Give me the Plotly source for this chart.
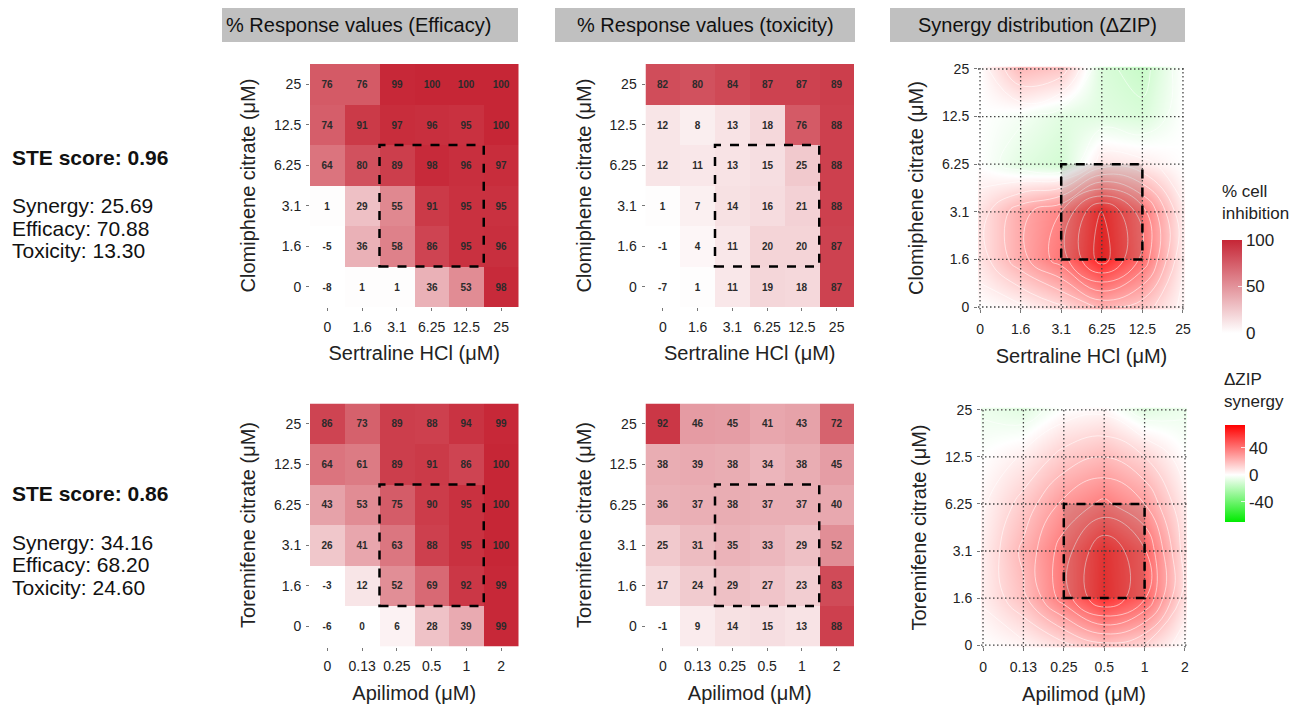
import plotly.graph_objects as go

W, H = 1308, 707
FONT = "Liberation Sans, Arial, sans-serif"

# ---------------- data ----------------
sertraline = ["0", "1.6", "3.1", "6.25", "12.5", "25"]      # x, top row
clomiphene = ["0", "1.6", "3.1", "6.25", "12.5", "25"]      # y, top row
apilimod = ["0", "0.13", "0.25", "0.5", "1", "2"]           # x, bottom row
toremifene = ["0", "1.6", "3.1", "6.25", "12.5", "25"]      # y, bottom row

# matrices: first row = lowest dose on y axis (0), last row = 25
eff_top = [
    [-8, 1, 1, 36, 53, 98],
    [-5, 36, 58, 86, 95, 96],
    [1, 29, 55, 91, 95, 95],
    [64, 80, 89, 98, 96, 97],
    [74, 91, 97, 96, 95, 100],
    [76, 76, 99, 100, 100, 100],
]
tox_top = [
    [-7, 1, 11, 19, 18, 87],
    [-1, 4, 11, 20, 20, 87],
    [1, 7, 14, 16, 21, 88],
    [12, 11, 13, 15, 25, 88],
    [12, 8, 13, 18, 76, 88],
    [82, 80, 84, 87, 87, 89],
]
syn_top = [
    [0, 3, 10, 22, 16, 2],
    [8, 25, 40, 64, 42, 5],
    [8, 25, 36, 62, 40, 5],
    [0, -8, -12, 8, 6, 0],
    [0, -3, -8, -8, -10, 0],
    [0, 20, 16, -10, -15, 0],
]
eff_bot = [
    [-6, 0, 6, 28, 39, 99],
    [-3, 12, 52, 69, 92, 99],
    [26, 41, 63, 88, 95, 100],
    [43, 53, 75, 90, 95, 100],
    [64, 61, 89, 91, 86, 100],
    [86, 73, 89, 88, 94, 99],
]
tox_bot = [
    [-1, 9, 14, 15, 13, 88],
    [17, 24, 29, 27, 23, 83],
    [25, 31, 35, 33, 29, 52],
    [36, 37, 38, 37, 37, 40],
    [38, 39, 38, 34, 38, 45],
    [92, 46, 45, 41, 43, 72],
]
syn_bot = [
    [0, 3, 10, 18, 12, 0],
    [5, 18, 40, 60, 45, 8],
    [5, 22, 40, 59, 45, 8],
    [3, 15, 30, 38, 28, 5],
    [0, 5, 15, 20, 12, 0],
    [-5, -8, 0, 2, -8, -5],
]

scores = [
    ("STE score: 0.96", ["Synergy: 25.69", "Efficacy: 70.88", "Toxicity: 13.30"]),
    ("STE score: 0.86", ["Synergy: 34.16", "Efficacy: 68.20", "Toxicity: 24.60"]),
]
headers = ["% Response values (Efficacy)", "% Response values (toxicity)", "Synergy distribution (ΔZIP)"]
resp_ticks = [0, 50, 100]
syn_ticks = [-40, 0, 40]

SYN_MIN, SYN_MAX = -70, 74
resp_scale = [[0, "rgb(255,255,255)"], [1, "rgb(198,38,54)"]]
z0 = -SYN_MIN / (SYN_MAX - SYN_MIN)
syn_scale = [[0, "rgb(0,235,0)"], [z0, "rgb(255,255,255)"], [1, "rgb(255,0,0)"]]


def fx(px):
    return px / W


def fy(py):
    return 1 - py / H


fig = go.Figure()

# panel pixel boxes: (left, right, top, bottom)
panels = {
    1: (310, 518.5, 64, 307),
    2: (645.5, 854, 64, 307),
    3: (978, 1185, 66.6, 309.4),
    4: (310, 518.5, 403.5, 646.5),
    5: (645.5, 854, 403.5, 646.5),
    6: (981, 1187, 407.6, 647.4),
}

heat_specs = [
    (1, sertraline, clomiphene, eff_top, "Sertraline HCl (μM)", "Clomiphene citrate (μM)", True),
    (2, sertraline, clomiphene, tox_top, "Sertraline HCl (μM)", "Clomiphene citrate (μM)", False),
    (4, apilimod, toremifene, eff_bot, "Apilimod (μM)", "Toremifene citrate (μM)", False),
    (5, apilimod, toremifene, tox_bot, "Apilimod (μM)", "Toremifene citrate (μM)", False),
]
syn_specs = [
    (3, sertraline, clomiphene, syn_top, "Sertraline HCl (μM)", "Clomiphene citrate (μM)", True),
    (6, apilimod, toremifene, syn_bot, "Apilimod (μM)", "Toremifene citrate (μM)", False),
]


def axname(k, a):
    return a if k == 1 else f"{a}{k}"


def axref(k, a):
    return a if k == 1 else f"{a}{k}"


layout_axes = {}


def set_axes(k, xcats, ycats, xtitle, ytitle, rng):
    l, r, t, b = panels[k]
    common = dict(
        type="category", categoryorder="array", showgrid=False, zeroline=False,
        showline=False, ticks="outside", ticklen=3, tickwidth=1, tickcolor="#777",
        tickfont=dict(size=14, color="#222", family=FONT), range=rng, fixedrange=True,
    )
    layout_axes[axname(k, "xaxis")] = dict(
        common, categoryarray=xcats, domain=[fx(l), fx(r)], anchor=axref(k, "y"),
        ticklabelstandoff=4,
        title=dict(text=xtitle, font=dict(size=20, color="#222", family=FONT), standoff=12),
    )
    layout_axes[axname(k, "yaxis")] = dict(
        common, categoryarray=ycats, domain=[fy(b), fy(t)], anchor=axref(k, "x"),
        ticklabelstandoff=2,
        title=dict(text=ytitle, font=dict(size=20, color="#222", family=FONT), standoff=12),
    )


def cbar(xpx, ycen, lpx, ticks):
    return dict(
        x=fx(xpx), xanchor="left", y=fy(ycen), yanchor="middle",
        len=lpx / H, lenmode="fraction", thickness=20, thicknessmode="pixels",
        xpad=0, ypad=0, outlinewidth=0,
        tickmode="array", tickvals=ticks, ticktext=[str(t) for t in ticks],
        ticks="inside", ticklen=4, tickcolor="rgba(255,255,255,0.8)",
        tickfont=dict(size=17, color="#222", family=FONT),
    )


for k, xc, yc, z, xt, yt, show in heat_specs:
    fig.add_trace(go.Heatmap(
        x=xc, y=yc, z=z, text=[[str(v) for v in row] for row in z],
        colorscale=resp_scale, zmin=0, zmax=100,
        texttemplate="%{text}", textfont=dict(size=10, color="#2b2b2b", family=FONT, weight="bold"),
        xaxis=axref(k, "x"), yaxis=axref(k, "y"), hoverinfo="skip",
        showscale=show, colorbar=cbar(1222, 286.5, 93, resp_ticks),
    ))
    set_axes(k, xc, yc, xt, yt, [-0.5, 5.5])
    fig.add_shape(type="rect", xref=axref(k, "x"), yref=axref(k, "y"),
                  x0=1.5, x1=4.5, y0=0.5, y1=3.5,
                  line=dict(color="black", width=2.5, dash="dash"), layer="above")

for k, xc, yc, z, xt, yt, show in syn_specs:
    fig.add_trace(go.Heatmap(
        x=xc, y=yc, z=z, colorscale=syn_scale, zmin=SYN_MIN, zmax=SYN_MAX,
        zsmooth="best", xaxis=axref(k, "x"), yaxis=axref(k, "y"), hoverinfo="skip",
        showscale=show, colorbar=cbar(1225, 473.5, 97, syn_ticks),
    ))
    fig.add_trace(go.Contour(
        x=xc, y=yc, z=z, showscale=False, hoverinfo="skip",
        contours=dict(coloring="none", start=-60, end=70, size=8, showlines=True),
        line=dict(color="rgba(255,255,255,0.55)", width=1, smoothing=1.3),
        xaxis=axref(k, "x"), yaxis=axref(k, "y"),
    ))
    set_axes(k, xc, yc, xt, yt, [-0.05, 5.05])
    for i in range(len(xc)):
        fig.add_shape(type="line", xref=axref(k, "x"), yref=axref(k, "y") + " domain",
                      x0=i, x1=i, y0=0, y1=1,
                      line=dict(color="#444", width=1.3, dash="1.5px,2.5px"), layer="above")
    for j in range(len(yc)):
        fig.add_shape(type="line", xref=axref(k, "x") + " domain", yref=axref(k, "y"),
                      x0=0, x1=1, y0=j, y1=j,
                      line=dict(color="#444", width=1.3, dash="1.5px,2.5px"), layer="above")
    fig.add_shape(type="rect", xref=axref(k, "x"), yref=axref(k, "y"),
                  x0=2, x1=4, y0=1, y1=3, fillcolor="rgba(40,40,40,0.14)",
                  line=dict(color="black", width=2.5, dash="dash"), layer="above")

# header boxes
hdr_boxes = [(222, 518), (555, 855), (890, 1185)]
for i, (text, (l, r)) in enumerate(zip(headers, hdr_boxes)):
    fig.add_shape(type="rect", xref="paper", yref="paper", x0=fx(l), x1=fx(r),
                  y0=fy(42), y1=fy(8), fillcolor="#c0c0c0", line=dict(width=0), layer="below")
    if i == 0:
        fig.add_annotation(x=fx(224), y=fy(25), xref="paper", yref="paper", text=text,
                           xanchor="left", yanchor="middle", showarrow=False,
                           font=dict(size=20, color="#111", family=FONT))
    else:
        fig.add_annotation(x=fx((l + r) / 2), y=fy(25), xref="paper", yref="paper", text=text,
                           xanchor="center", yanchor="middle", showarrow=False,
                           font=dict(size=20, color="#111", family=FONT))

# left score texts
score_pos = [(157, [205, 228, 250]), (493, [542, 564, 587])]
for (title, lines), (ty, lys) in zip(scores, score_pos):
    fig.add_annotation(x=fx(10), y=fy(ty), xref="paper", yref="paper", text=title,
                       xanchor="left", yanchor="middle", showarrow=False,
                       font=dict(size=21, color="#111", family=FONT, weight="bold"))
    for line, ly in zip(lines, lys):
        fig.add_annotation(x=fx(10), y=fy(ly), xref="paper", yref="paper", text=line,
                           xanchor="left", yanchor="middle", showarrow=False,
                           font=dict(size=21, color="#111", family=FONT))

# colorbar titles
fig.add_annotation(x=fx(1220), y=fy(180), xref="paper", yref="paper",
                   text="% cell<br>inhibition", xanchor="left", yanchor="top",
                   align="left", showarrow=False,
                   font=dict(size=17, color="#222", family=FONT))
fig.add_annotation(x=fx(1222), y=fy(368), xref="paper", yref="paper",
                   text="ΔZIP<br>synergy", xanchor="left", yanchor="top",
                   align="left", showarrow=False,
                   font=dict(size=17, color="#222", family=FONT))

fig.update_layout(
    width=W, height=H, template="none",
    margin=dict(l=0, r=0, t=0, b=0),
    paper_bgcolor="white", plot_bgcolor="white",
    font=dict(family=FONT, color="#222"),
    showlegend=False,
    **layout_axes,
)

fig.write_html("out.html", config={"displayModeBar": False},
               post_script="document.body.style.margin='0px';")
